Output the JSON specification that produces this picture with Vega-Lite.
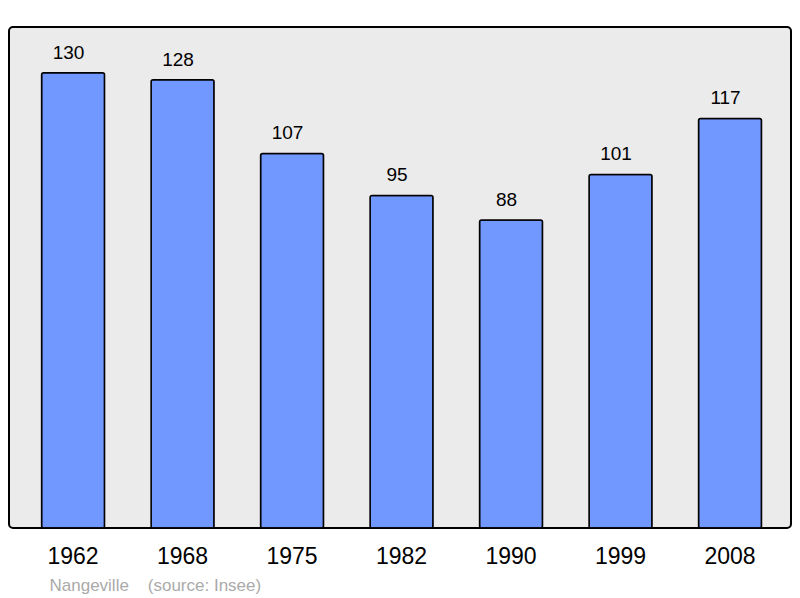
{
  "$schema": "https://vega.github.io/schema/vega-lite/v6.json",
  "autosize": "none",
  "width": 782,
  "height": 501,
  "padding": {"left": 9, "top": 27, "right": 9, "bottom": 70},
  "background": "white",
  "config": {
    "font": "Liberation Sans",
    "view": {"fill": "#ebebeb", "stroke": "black", "strokeWidth": 2, "cornerRadius": 4}
  },
  "data": {
    "values": [
      {"year": "1962", "pop": 130},
      {"year": "1968", "pop": 128},
      {"year": "1975", "pop": 107},
      {"year": "1982", "pop": 95},
      {"year": "1990", "pop": 88},
      {"year": "1999", "pop": 101},
      {"year": "2008", "pop": 117}
    ]
  },
  "encoding": {
    "x": {
      "field": "year", "type": "ordinal",
      "scale": {"paddingInner": 0.425, "paddingOuter": 0.2835, "align": 0.525},
      "axis": {
        "title": "Nangeville\u00a0\u00a0\u00a0\u00a0(source: Insee)",
        "titleColor": "#aaaaaa", "titleFontSize": 17, "titleFontWeight": "normal",
        "titleAnchor": "start", "titleAlign": "left", "titleX": 40, "titleY": 49,
        "labelAngle": 0, "labelFontSize": 23, "labelColor": "black", "labelPadding": 17,
        "ticks": false, "domain": false, "grid": false
      }
    },
    "y": {
      "field": "pop", "type": "quantitative",
      "scale": {"domain": [0, 143.1], "nice": false, "zero": true},
      "axis": null
    }
  },
  "layer": [
    {
      "mark": {"type": "bar", "color": "#7098ff", "stroke": "black", "strokeWidth": 1.5, "cornerRadius": 2}
    },
    {
      "mark": {"type": "text", "dx": -4.5, "dy": -20, "baseline": "middle", "fontSize": 19, "color": "black"},
      "encoding": {"text": {"field": "pop", "type": "quantitative"}}
    }
  ]
}
